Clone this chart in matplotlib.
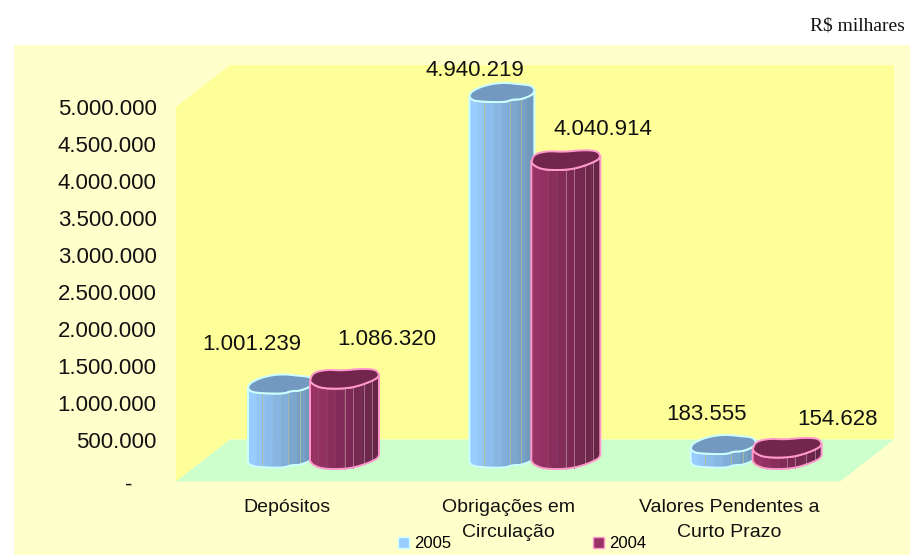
import matplotlib
matplotlib.use('Agg')
import matplotlib.pyplot as plt
from matplotlib.patches import Polygon, Patch
from matplotlib.transforms import ScaledTranslation
import numpy as np

categories = ['Depósitos', 'Obrigações em\nCirculação', 'Valores Pendentes a\nCurto Prazo']
series_names = ['2005', '2004']
values_2005 = [1001239, 4940219, 183555]
values_2004 = [1086320, 4040914, 154628]
labels_2005 = ['1.001.239', '4.940.219', '183.555']
labels_2004 = ['1.086.320', '4.040.914', '154.628']
y_ticks = [0, 500000, 1000000, 1500000, 2000000, 2500000, 3000000, 3500000, 4000000, 4500000, 5000000]
y_tick_labels = ['-\u00a0\u00a0\u00a0\u00a0', '500.000', '1.000.000', '1.500.000', '2.000.000', '2.500.000',
                 '3.000.000', '3.500.000', '4.000.000', '4.500.000', '5.000.000']

W, H = 910, 555
AX_L, AX_R, AX_T, AX_B = 176, 840, 107, 477
DEPTH_X, DEPTH_Y = 54, 42
DROP = 4.5

PX_X = 3 / (AX_R - AX_L)
PX_Y = 5000000 / (AX_B - AX_T)

# bar cross sections in pixels, measured from the left end of the bar (down is positive)
front_2005 = np.array([(0, 0), (2, 3), (8, 5), (35, 6), (43, 3), (52, 3), (64, -2), (65, -7)])
back_2005 = np.array([(65, -7), (62, -11), (52, -12), (33, -14), (15, -11), (2, -5), (0, 0)])
front_2004 = np.array([(0, 0), (3, 4), (13, 8), (37, 8), (53, 4), (67, -2), (69, -6)])
back_2004 = np.array([(69, -6), (66, -11), (52, -12), (32, -10), (17, -11), (3, -8), (0, 0)])

fig = plt.figure(figsize=(W / 100, H / 100), dpi=100, facecolor='white')
plt.rcParams['font.family'] = ['Liberation Sans', 'DejaVu Sans']

bg = fig.add_axes([14 / W, 0, (W - 14) / W, 1 - 45 / H], zorder=0)
bg.set_facecolor('#FFFFCC')
bg.set_xticks([])
bg.set_yticks([])
for s in bg.spines.values():
    s.set_visible(False)

ax = fig.add_axes([AX_L / W, 1 - AX_B / H, (AX_R - AX_L) / W, (AX_B - AX_T) / H], zorder=1)
ax.patch.set_alpha(0)
ax.set_xlim(0, 3)
ax.set_ylim(0, 5000000)
for s in ax.spines.values():
    s.set_visible(False)

dx = DEPTH_X * PX_X
dy = DEPTH_Y * PX_Y
y0 = -DROP * PX_Y
ax.add_patch(Polygon([(0, y0), (dx, y0 + dy), (3 + dx, y0 + dy), (3 + dx, 5000000 + dy), (dx, 5000000 + dy), (0, 5000000)],
                     closed=True, fc='#FFFF99', ec='none', clip_on=False, zorder=1))
ax.add_patch(Polygon([(0, y0), (dx, y0 + dy), (3 + dx, y0 + dy), (3, y0)],
                     closed=True, fc='#CCFFCC', ec='none', clip_on=False, zorder=2))


def mix(c1, c2, t):
    return tuple((1 - t) * np.array(c1) + t * np.array(c2))


def smooth(pts, n=2):
    # corner cutting, keeps both end points
    for _ in range(n):
        a = pts[:-1] * 0.75 + pts[1:] * 0.25
        b = pts[:-1] * 0.25 + pts[1:] * 0.75
        mid = np.empty((2 * len(a), 2))
        mid[0::2] = a
        mid[1::2] = b
        pts = np.vstack([pts[0], mid, pts[-1]])
    return pts


def draw_bar(x_left, value, base_px, front, back, c_light, c_dark, c_top, c_edge, c_line, line_pos, z):
    base = base_px * PX_Y
    front = smooth(front)
    back = smooth(back)
    xs = x_left + front[:, 0] * PX_X
    ys = base - front[:, 1] * PX_Y

    # shaded facets along the front of the bar
    grid = np.linspace(xs[0], xs[-1], 9)
    grid_y = np.interp(grid, xs, ys)
    for i in range(8):
        c = mix(c_light, c_dark, i / 7)
        # follow the curved front inside each facet
        inside = (xs > grid[i]) & (xs < grid[i + 1])
        low = [(grid[i], grid_y[i])] + list(zip(xs[inside], ys[inside])) + [(grid[i + 1], grid_y[i + 1])]
        high = [(a, b + value) for a, b in low[::-1]]
        ax.add_patch(Polygon(low + high, closed=True, fc=c, ec=c, lw=0.3, clip_on=False, zorder=z))
    for p in line_pos:
        lx = xs[0] + p * (xs[-1] - xs[0])
        ly = np.interp(lx, xs, ys)
        ax.plot([lx, lx], [ly, ly + value], color=c_line, lw=0.7, clip_on=False, zorder=z + 0.1)

    # outline of the body and the top cap
    body = list(zip(xs, ys)) + list(zip(xs[::-1], ys[::-1] + value))
    ax.add_patch(Polygon(body, closed=True, fc='none', ec=c_edge, lw=1.4, clip_on=False, zorder=z + 0.2))
    top = list(zip(xs, ys + value)) + [(x_left + a * PX_X, base - b * PX_Y + value) for a, b in back[1:]]
    ax.add_patch(Polygon(top, closed=True, fc=c_top, ec=c_edge, lw=1.4, clip_on=False, zorder=z + 0.3))


blue = dict(c_light=(0.60, 0.80, 1.0), c_dark=(0.44, 0.60, 0.74), c_top='#7399C0', c_edge='#CCFFFF', c_line='#A9B9A0')
wine = dict(c_light=(0.60, 0.20, 0.40), c_dark=(0.40, 0.14, 0.28), c_top='#73264D', c_edge='#FF99CC', c_line='#A8708A')

for i in range(3):
    draw_bar(i + 72 * PX_X, values_2005[i], 15, front_2005, back_2005, line_pos=[0.22, 0.62, 0.8], z=3 + i, **blue)
    draw_bar(i + 134 * PX_X, values_2004[i], 16, front_2004, back_2004, line_pos=[0.5, 0.62, 0.78, 0.9], z=3.5 + i, **wine)

# data labels sit at irregular places above the bars
offs_2005 = [(-35, 58), (-33, 41), (-23, 49)]
offs_2004 = [(100, 57), (95, 48), (108, 46)]
for i in range(3):
    ax.annotate(labels_2005[i], (i + 0.5, values_2005[i]), xytext=offs_2005[i], textcoords='offset pixels',
                ha='center', va='center', fontsize=16, color='#111111', annotation_clip=False, zorder=10)
    ax.annotate(labels_2004[i], (i + 0.5, values_2004[i]), xytext=offs_2004[i], textcoords='offset pixels',
                ha='center', va='center', fontsize=16, color='#111111', annotation_clip=False, zorder=10)

ax.set_yticks(y_ticks)
ax.set_yticklabels(y_tick_labels, fontsize=16, color='#111111')
ax.set_xticks([0.5, 1.5, 2.5])
ax.set_xticklabels(categories, fontsize=14, color='#111111', linespacing=1.62)
ax.tick_params(axis='y', length=0, pad=14)
ax.tick_params(axis='x', length=0, pad=16)

# the zero dash sits a little lower than its tick
dash = ax.get_yticklabels()[0]
dash.set_transform(dash.get_transform() + ScaledTranslation(0, -4 / 72, fig.dpi_scale_trans))

fig.legend(handles=[Patch(fc='#99CCFF', ec='#CCFFFF', label=series_names[0]),
                    Patch(fc='#993366', ec='#FF99CC', label=series_names[1])],
           loc='center', bbox_to_anchor=(522 / W, 1 - 544 / H), ncol=2, frameon=False, fontsize=12,
           handlelength=0.66, handleheight=0.66, handletextpad=0.3, columnspacing=8.5, borderpad=0, borderaxespad=0)

fig.text(905 / W, 1 - 26 / H, 'R$ milhares', ha='right', va='center', fontsize=14,
         family=['Liberation Serif', 'DejaVu Serif'], color='#111111')

fig.savefig('out.png', dpi=100)
